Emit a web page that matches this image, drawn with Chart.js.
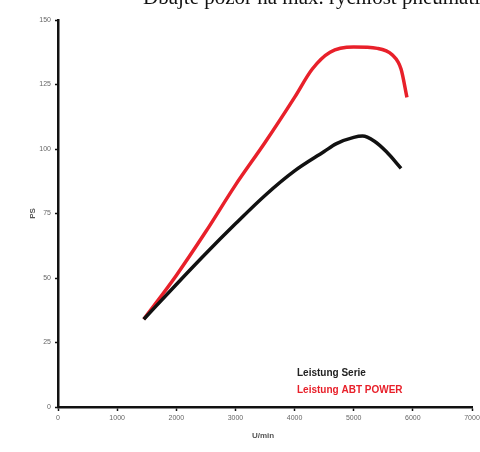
<!DOCTYPE html>
<html>
<head>
<meta charset="utf-8">
<script src="https://cdn.jsdelivr.net/npm/chart.js@4/dist/chart.umd.min.js"></script>
<style>
  html, body { margin: 0; padding: 0; background: #fff; }
  #wrap { width: 480px; height: 452px; position: relative; }
</style>
</head>
<body>
<div id="wrap"><canvas id="powerChart"></canvas></div>
<script>
// Power curves (rpm -> PS)
const serieRpm = [1450, 2000, 2500, 3000, 3500, 4000, 4500, 4700, 5000, 5150, 5350, 5550, 5800];
const serieLabel = 'Leistung Serie';
const seriePs = [34, 47.5, 59.5, 71, 82, 91.5, 99, 102, 104.5, 105, 103, 99, 92.5];

const abtRpm = [1450, 2000, 2500, 3000, 3500, 4000, 4300, 4600, 5000, 5400, 5650, 5800, 5900];
const abtLabel = 'Leistung ABT POWER';
const abtPs = [34, 51, 68, 86, 102.5, 120, 131, 137.5, 139.5, 139, 136.5, 131, 120];

const xTicks = [0, 1000, 2000, 3000, 4000, 5000, 6000, 7000];
const yTicks = [0, 25, 50, 75, 100, 125, 150];

const xTitle = 'U/min';
const yTitle = 'PS';
const topNote = 'Dbajte pozor na max. rychlost pneumatik';

const sans = '"Liberation Sans", Arial, sans-serif';

function toPoints(xs, ys) {
    return xs.map((x, i) => ({ x: x, y: ys[i] }));
}

// Legend inside the plot (text only), axis titles and the cropped caption
const annotations = {
    id: 'annotations',
    afterDraw(chart) {
        const ctx = chart.ctx;
        const area = chart.chartArea;
        ctx.save();
        ctx.font = 'bold 10px ' + sans;
        ctx.textBaseline = 'middle';
        ctx.textAlign = 'left';
        chart.data.datasets.forEach((ds, i) => {
            ctx.fillStyle = ds.legendColor;
            ctx.fillText(ds.label, 297, 373 + i * 17);
        });

        ctx.font = 'bold 8px ' + sans;
        ctx.fillStyle = '#555';
        ctx.textAlign = 'center';
        ctx.fillText(xTitle, (area.left + area.right) / 2 - 2, 436);

        ctx.translate(33, (area.top + area.bottom) / 2);
        ctx.rotate(-Math.PI / 2);
        ctx.fillText(yTitle, 0, 0);
        ctx.setTransform(1, 0, 0, 1, 0, 0);

        ctx.font = '21px "Liberation Serif", "Times New Roman", serif';
        ctx.fillStyle = '#111';
        ctx.textAlign = 'left';
        ctx.textBaseline = 'alphabetic';
        ctx.scale(chart.currentDevicePixelRatio, chart.currentDevicePixelRatio);
        ctx.fillText(topNote, 143, 4);
        ctx.restore();
    }
};

const tickFont = { family: sans, size: 7 };

new Chart(document.getElementById('powerChart'), {
    type: 'line',
    data: {
        datasets: [
            {
                label: serieLabel,
                data: toPoints(serieRpm, seriePs),
                borderColor: '#111111',
                legendColor: '#222222',
                borderWidth: 3.5,
                pointRadius: 0,
                cubicInterpolationMode: 'monotone',
                fill: false
            },
            {
                label: abtLabel,
                data: toPoints(abtRpm, abtPs),
                borderColor: '#e8202a',
                legendColor: '#e8202a',
                borderWidth: 3.5,
                pointRadius: 0,
                cubicInterpolationMode: 'monotone',
                fill: false
            }
        ]
    },
    options: {
        responsive: true,
        maintainAspectRatio: false,
        animation: false,
        layout: { padding: { top: 20, right: 8, left: 0, bottom: 0 } },
        plugins: {
            legend: { display: false },
            tooltip: { enabled: false }
        },
        scales: {
            x: {
                type: 'linear',
                min: 0,
                max: 7000,
                afterBuildTicks: (scale) => { scale.ticks = xTicks.map(v => ({ value: v })); },
                afterFit: (scale) => { scale.height = 45; scale.paddingLeft = 0; scale.paddingRight = 0; },
                grid: { drawOnChartArea: false, tickLength: 4, tickColor: '#111', tickWidth: 1.5 },
                border: { color: '#111', width: 2.5 },
                ticks: { color: '#666', font: tickFont, padding: 3, maxRotation: 0, autoSkip: false,
                         callback: (v) => String(v) }
            },
            y: {
                min: 0,
                max: 150,
                afterBuildTicks: (scale) => { scale.ticks = yTicks.map(v => ({ value: v })); },
                afterFit: (scale) => { scale.width = 58; scale.paddingTop = 0; scale.paddingBottom = 0; },
                grid: { drawOnChartArea: false, tickLength: 3, tickColor: '#111', tickWidth: 1.5 },
                border: { color: '#111', width: 2.5 },
                ticks: { color: '#666', font: tickFont, padding: 4, callback: (v) => String(v) }
            }
        }
    },
    plugins: [annotations]
});
</script>
</body>
</html>
